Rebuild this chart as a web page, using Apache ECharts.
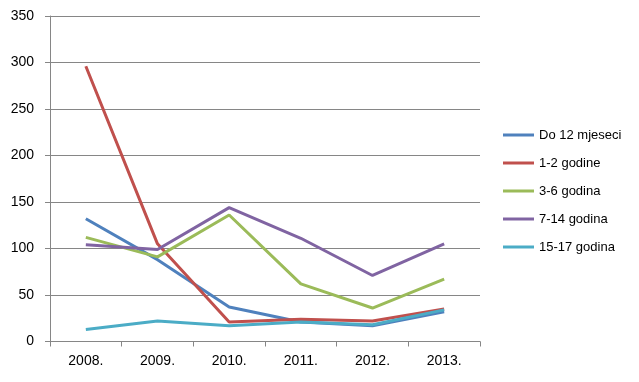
<!DOCTYPE html>
<html><head><meta charset="utf-8">
<script src="https://cdn.jsdelivr.net/npm/echarts@6/dist/echarts.min.js"></script>
<style>html,body{margin:0;padding:0;background:#fff}#c{width:639px;height:382px}</style>
</head><body><div id="c"></div>
<script>
const categories = ["2008.", "2009.", "2010.", "2011.", "2012.", "2013."];
const seriesNames = ["Do 12 mjeseci", "1-2 godine", "3-6 godina", "7-14 godina", "15-17 godina"];
const do12 = [132, 88, 37, 21, 17, 32];
const g1_2 = [296, 105, 21, 24, 22, 35];
const g3_6 = [112, 91, 136, 62, 36, 67];
const g7_14 = [104, 99, 144, 111, 71, 105];
const g15_17 = [13, 22, 17, 21, 18, 34];
const values = [do12, g1_2, g3_6, g7_14, g15_17];
const colors = ["#4F81BD", "#C0504D", "#9BBB59", "#8064A2", "#4BACC6"];
const font = "Liberation Sans";
const chart = echarts.init(document.getElementById('c'));
chart.setOption({
  animation: false,
  grid: {left: 50, right: 159, top: 16, bottom: 40.5, containLabel: false},
  legend: {
    orient: 'vertical', left: 503, top: 128, padding: 0, itemWidth: 31, itemHeight: 3, itemGap: 14,
    icon: 'rect',
    textStyle: {fontFamily: font, fontSize: 13, color: '#000', lineHeight: 14},
    data: seriesNames
  },
  xAxis: {
    type: 'category', data: categories, boundaryGap: true,
    axisLine: {lineStyle: {color: '#868686', width: 1}},
    axisTick: {show: true, length: 5, lineStyle: {color: '#868686'}, alignWithLabel: false},
    axisLabel: {fontFamily: font, fontSize: 14, color: '#000', margin: 13}
  },
  yAxis: {
    type: 'value', min: 0, max: 350, interval: 50,
    axisLine: {show: true, lineStyle: {color: '#868686', width: 1}},
    axisTick: {show: true, length: 5, lineStyle: {color: '#868686'}},
    splitLine: {lineStyle: {color: '#868686', width: 1}},
    axisLabel: {fontFamily: font, fontSize: 14, color: '#000', margin: 16}
  },
  series: seriesNames.map((n, i) => ({
    name: n, type: 'line', data: values[i], showSymbol: false, symbol: 'none',
    lineStyle: {color: colors[i], width: 3}, itemStyle: {color: colors[i]}
  }))
});
</script></body></html>
